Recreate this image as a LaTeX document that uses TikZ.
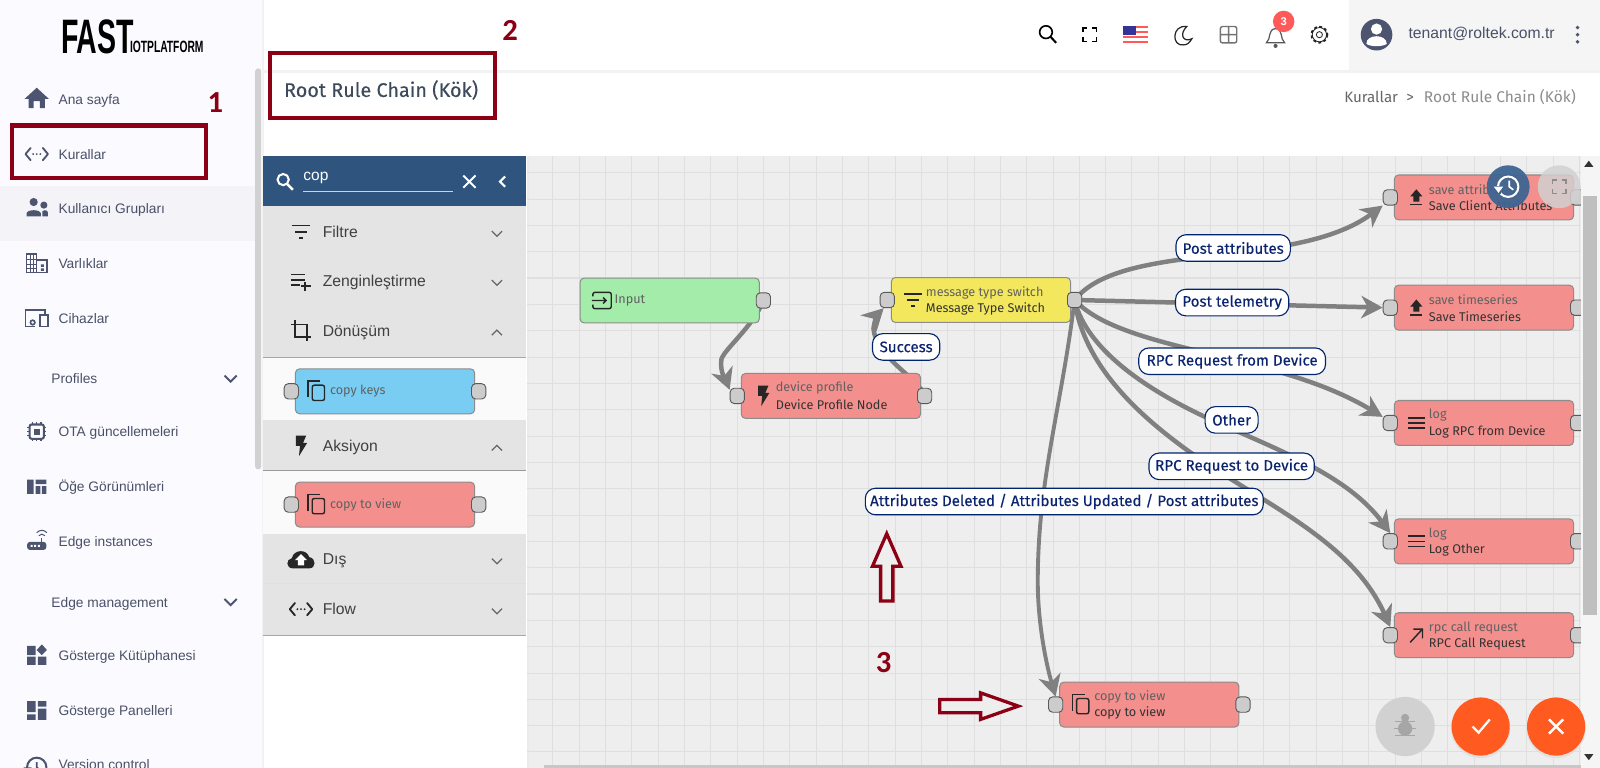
\documentclass[tikz,border=0pt]{standalone}
\usepackage{graphicx}
\usepackage{fontspec}
\setmainfont{Liberation Sans}
\newfontfamily\plexfont{Fira Sans}
\newfontfamily\lblfont[FakeBold=0.35]{Fira Sans}
\newfontfamily\titlefont[FakeBold=0.2]{Fira Sans}
\newfontfamily\numfont{Carlito}
\usetikzlibrary{arrows.meta,calc,backgrounds}
\definecolor{sidebg}{HTML}{FBFBFF}
\definecolor{sidesel}{HTML}{F4F4F8}
\definecolor{sideink}{HTML}{4A5068}
\definecolor{iconink}{HTML}{4C5470}
\definecolor{darkred}{HTML}{8B0014}
\definecolor{canvasbg}{HTML}{EEEEEE}
\definecolor{gridln}{HTML}{DFDFDF}
\definecolor{libhead}{HTML}{2F557F}
\definecolor{libsec}{HTML}{E4E4E4}
\definecolor{nodered}{HTML}{F38F8C}
\definecolor{nodeyel}{HTML}{F3E85D}
\definecolor{nodegrn}{HTML}{A3ECAA}
\definecolor{nodeblu}{HTML}{79CDF2}
\definecolor{navy}{HTML}{0B2470}
\definecolor{navyln}{HTML}{00256E}
\definecolor{edgegray}{HTML}{808080}
\definecolor{orangeb}{HTML}{FF5A20}
\definecolor{titleink}{HTML}{3D4A5C}
\definecolor{histblue}{HTML}{3E6592}
\tikzset{
  flowbox/.style={draw=black!45,line width=.5pt,rounded corners=2pt,minimum width=87.8pt,minimum height=22pt,inner sep=0pt,anchor=north west},
  portbox/.style={draw=black!65,fill=black!20,line width=.45pt,rounded corners=2pt,minimum width=7pt,minimum height=7.5pt,inner sep=0pt},
  flow/.style={draw=edgegray,line width=2.2pt,-{Stealth[length=10.5pt,width=11pt,inset=3.2pt]}},
  edgelbl/.style={draw=navyln,fill=white,line width=.55pt,rounded corners=5pt,minimum height=13pt,inner sep=0pt,text=navy,font=\lblfont\fontsize{7.4pt}{8pt}\selectfont},
  sidetxt/.style={anchor=base west,inner sep=0pt,text=sideink,font=\fontsize{6.75pt}{8pt}\selectfont},
  libtxt/.style={anchor=base west,inner sep=0pt,text=black!75,font=\fontsize{7.7pt}{9pt}\selectfont},
  topline/.style={anchor=west,inner sep=0pt,text=black!62,font=\plexfont\fontsize{6.2pt}{7pt}\selectfont},
  botline/.style={anchor=west,inner sep=0pt,text=black!80,font=\plexfont\fontsize{6.2pt}{7pt}\selectfont},
  rednum/.style={inner sep=0pt,text=darkred,font=\numfont\bfseries\fontsize{15pt}{16pt}\selectfont},
  redbox/.style={draw=darkred,line width=2pt},
  redarrow/.style={draw=darkred,fill=canvasbg,line width=1.6pt,miter limit=8},
  ln/.style={line width=.9pt,line cap=round,line join=round}
}
% ---- icons: argument 1 is the centre, argument 2 the colour
\newcommand\ihome[2]{\fill[#2,shift={(#1)}] (0,-11)--(12,0)--(8,0)--(8,9)--(3,9)--(3,2)--(-3,2)--(-3,9)--(-8,9)--(-8,0)--(-12,0)--cycle;}
\newcommand\icode[2]{\begin{scope}[shift={(#1)}]\draw[#2,ln] (-6,-6)--(-11,0)--(-6,6) (6,-6)--(11,0)--(6,6);\fill[#2] (-3.5,0) circle (1) (0,0) circle (1) (3.5,0) circle (1);\end{scope}}
\newcommand\ipeople[2]{\begin{scope}[shift={(#1)}]\fill[#2] (-3,-6) circle (4) (7,-3) circle (3.5);\fill[#2] (-10,8)--(-10,5).. controls (-9,1) and (3,1) .. (4,5)--(4,8)--cycle;\fill[#2] (5.5,8)--(5.5,3).. controls (8,1) and (11,2) .. (11,5)--(11,8)--cycle;\end{scope}}
\newcommand\ibuilding[2]{\begin{scope}[shift={(#1)}]\draw[#2,line width=.7pt] (-10,-9) rectangle (0,9) (0,-3) rectangle (10,9);\draw[#2,line width=.6pt] (-10,-4)--(0,-4) (-10,1)--(0,1) (-10,5)--(0,5) (-6,-9)--(-6,9) (-3,-9)--(-3,9);\fill[#2] (4,1) rectangle (7,3.5) (4,5) rectangle (7,7.5);\end{scope}}
\newcommand\idevices[2]{\begin{scope}[shift={(#1)}]\draw[#2,line width=.8pt] (-2,8)--(-11,8)--(-11,-8)--(8,-8)--(8,-4);\draw[#2,line width=.8pt] (3,-3) rectangle (11,8);\draw[#2,line width=.8pt] (-4,4) circle (2.2);\end{scope}}
\newcommand\ichip[2]{\begin{scope}[shift={(#1)}]\draw[#2,line width=1pt,rounded corners=1pt] (-7,-7) rectangle (7,7);\fill[#2] (-3,-3) rectangle (3,3);\draw[#2,line width=.7pt] (-9.5,-4)--(-7,-4) (7,-4)--(9.5,-4) (-9.5,0)--(-7,0) (7,0)--(9.5,0) (-9.5,4)--(-7,4) (7,4)--(9.5,4) (-4,-9.5)--(-4,-7) (0,-9.5)--(0,-7) (4,-9.5)--(4,-7) (-4,7)--(-4,9.5) (0,7)--(0,9.5) (4,7)--(4,9.5);\end{scope}}
\newcommand\idash[2]{\begin{scope}[shift={(#1)},#2]\fill (-9.5,-7) rectangle (-3,7) (-1,-7) rectangle (9.5,-2.5) (-1,-.5) rectangle (3.5,7) (5,-.5) rectangle (9.5,7);\end{scope}}
\newcommand\irouter[2]{\begin{scope}[shift={(#1)}]\fill[#2,rounded corners=1.5pt] (-9.5,1) rectangle (9.5,9);\fill[white] (-6,4) rectangle (-4,6) (-2.5,4) rectangle (-.5,6) (1,4) rectangle (3,6);\draw[#2,line width=.6pt] (5,1)--(5,-3);\draw[#2,line width=.5pt] (2,-5) .. controls (4,-7) and (6,-7) .. (8,-5) (0,-8) .. controls (3,-11) and (7,-11) .. (10,-8);\end{scope}}
\newcommand\iwidget[2]{\begin{scope}[shift={(#1)},#2]\fill (-9.5,-9) rectangle (-1,0) (-9.5,1.5) rectangle (-1,9.5) (1,1.5) rectangle (9.5,9.5);\fill (5,-10.5)--(10,-5)--(5,0)--(0,-5)--cycle;\end{scope}}
\newcommand\ipanels[2]{\begin{scope}[shift={(#1)},#2]\fill (-9.5,-9) rectangle (-1,2) (-9.5,4) rectangle (-1,9.5) (1,-9) rectangle (9.5,-3.5) (1,-1.5) rectangle (9.5,9.5);\end{scope}}
\newcommand\ihist[2]{\begin{scope}[shift={(#1)}]\draw[#2,line width=1pt] (0,0) circle (9.5);\draw[#2,line width=.8pt] (0,-5)--(0,0)--(4,3);\fill[sidebg] (-13,3) rectangle (-6,12);\fill[#2] (-13,0)--(-5,0)--(-9,5)--cycle;\end{scope}}
\newcommand\ifilter[2]{\draw[#2,line width=.9pt,shift={(#1)}] (-9,-6)--(9,-6) (-6,0)--(6,0) (-2,6)--(2,6);}
\newcommand\iplaylist[2]{\draw[#2,line width=.9pt,shift={(#1)}] (-10,-6)--(4,-6) (-10,-1)--(4,-1) (-10,4)--(-1,4) (4,1)--(4,10) (0,5.5)--(10,5.5);}
\newcommand\icrop[2]{\draw[#2,line width=.9pt,shift={(#1)}] (-6,-10)--(-6,6)--(10,6) (-10,-6)--(6,-6)--(6,10);}
\newcommand\ibolt[2]{\fill[#2,shift={(#1)}] (-5,-10)--(5,-10)--(2,-3)--(6,-3)--(-2,10)--(-1,0)--(-5,0)--cycle;}
\newcommand\icloud[2]{\begin{scope}[shift={(#1)}]\fill[#2] (-8,9) .. controls (-15,9) and (-15,0) .. (-9,-1) .. controls (-7,-10) and (6,-10) .. (8,-2) .. controls (15,-1) and (15,9) .. (8,9) --cycle;\fill[white] (0,-5)--(6,1)--(3,1)--(3,6)--(-3,6)--(-3,1)--(-6,1)--cycle;\end{scope}}
\newcommand\icopy[2]{\begin{scope}[shift={(#1)}]\draw[#2,line width=.7pt] (-9,6)--(-9,-10)--(3,-10);\draw[#2,line width=.7pt,rounded corners=1pt] (-5,-6) rectangle (7,9);\end{scope}}
\newcommand\iupload[2]{\begin{scope}[shift={(#1)}]\fill[#2] (0,-8)--(6,-1)--(3,-1)--(3,4)--(-3,4)--(-3,-1)--(-6,-1)--cycle;\draw[#2,line width=.7pt] (-6,7)--(6,7);\end{scope}}
\newcommand\imenu[2]{\draw[#2,line width=.8pt,shift={(#1)}] (-8,-5)--(8,-5) (-8,0)--(8,0) (-8,5)--(8,5);}
\newcommand\iarrow[2]{\draw[#2,line width=.7pt,shift={(#1)}] (-6,7)--(6,-6) (-3,-6)--(6,-6)--(6,3);}
\newcommand\iinput[2]{\begin{scope}[shift={(#1)}]\draw[#2,line width=.7pt,rounded corners=1pt] (-9,-4)--(-9,-8)--(9,-8)--(9,8)--(-9,8)--(-9,4);\draw[#2,line width=.7pt] (-10,0)--(4,0) (1,-3)--(4,0)--(1,3);\end{scope}}
\newcommand\ichevd[2]{\draw[#2,line width=.6pt,shift={(#1)}] (-5,-5.5)--(0,-.5)--(5,-5.5);}
\newcommand\ichevu[2]{\draw[#2,line width=.6pt,shift={(#1)}] (-5,-.5)--(0,-5.5)--(5,-.5);}
\newcommand\ifull[2]{\draw[#2,line width=.8pt,shift={(#1)}] (-6.5,-2.5)--(-6.5,-6.5)--(-2.5,-6.5) (2.5,-6.5)--(6.5,-6.5)--(6.5,-2.5) (6.5,2.5)--(6.5,6.5)--(2.5,6.5) (-2.5,6.5)--(-6.5,6.5)--(-6.5,2.5);}
% ---- repeated parts
\newcommand\sideitem[3]{\node[sidetxt] (#1) at (#2) {#3};}
\newcommand\flownode[7]{%
  \node[flowbox,fill=#4] (#1) at (#2,#3) {};
  \node[portbox] (#1-in) at ([xshift=-1.75pt]#1.west) {};
  \node[portbox] (#1-out) at ([xshift=1.75pt]#1.east) {};
  \coordinate (#1-i) at ([xshift=11pt]#1.west);
  #5{#1-i}{black!85}
  \node[topline] (#1-a) at ([xshift=17pt,yshift=3.7pt]#1.west) {#6};
  \node[botline] (#1-b) at ([xshift=17pt,yshift=-4.2pt]#1.west) {#7};}
\newcommand\libsection[6]{%
  \fill[libsec] (258,#2) rectangle (515,#3);
  \draw[black!12,line width=.5pt] (258,#3)--(515,#3);
  #4{295,#2+25}{black!85}
  \node[libtxt] (#1) at (316,#2+30.5) {#5};
  #6{487,#2+30}{black!60}}
\begin{document}
\begin{tikzpicture}[x=0.5pt,y=-0.5pt]
\useasboundingbox (0,0) rectangle (1568,752.64);
\begin{scope}[on background layer]
\fill[white] (0,0) rectangle (1568,752.64);
\fill[canvasbg] (516,153) rectangle (1550,752.64);
\fill[black!8] (516,153) rectangle (518,752.64);
\foreach \k in {1,...,40} {\draw[gridln,line width=.35pt] (515.8+25.8*\k,153)--(515.8+25.8*\k,750);}
\foreach \k in {-3,...,19} {\draw[gridln,line width=.35pt] (516,246.6+25.8*\k)--(1550,246.6+25.8*\k);}
\foreach \k in {-1,...,4} {\draw[gridln,line width=.5pt] (516,272.4+103.2*\k)--(1550,272.4+103.2*\k);}
\end{scope}
% top bar
\fill[black!4] (1322,0) rectangle (1568,69);
\draw[black!5,line width=1.5pt] (258,70)--(1568,70);
% sidebar
\fill[sidebg] (0,0) rectangle (258,752.64);
\fill[sidesel] (0,182) rectangle (250,236);
\draw[black!5,line width=1pt] (258,0)--(258,752.64);
\fill[black!18,rounded corners=1.5pt] (250,67) rectangle (256,460);
\node[inner sep=0pt,anchor=base west] (logo1) at (59.5,52) {\scalebox{.59}[1]{\bfseries\fontsize{23.7pt}{24pt}\selectfont FAST}};
\node[inner sep=0pt,anchor=base west] (logo2) at (127,51) {\scalebox{.63}[1]{\bfseries\fontsize{8pt}{9pt}\selectfont IOTPLATFORM}};
\ihome{36,97}{iconink}
\icode{36,151}{iconink}
\ipeople{36,204}{iconink}
\ibuilding{36,258}{iconink}
\idevices{36,312}{iconink}
\ichip{36,423}{iconink}
\idash{36,477}{iconink}
\irouter{36,530}{iconink}
\iwidget{36,642}{iconink}
\ipanels{36,696}{iconink}
\ihist{36,752}{iconink}
\sideitem{s1}{57,102}{Ana sayfa}
\sideitem{s2}{57,156}{Kurallar}
\sideitem{s3}{57,209}{Kullanıcı Grupları}
\sideitem{s4}{57,263}{Varlıklar}
\sideitem{s5}{57,317}{Cihazlar}
\sideitem{s6}{50,376}{Profiles}
\sideitem{s7}{57,428}{OTA güncellemeleri}
\sideitem{s8}{57,482}{Öğe Görünümleri}
\sideitem{s9}{57,536}{Edge instances}
\sideitem{s10}{50,595}{Edge management}
\sideitem{s11}{57,647}{Gösterge Kütüphanesi}
\sideitem{s12}{57,701}{Gösterge Panelleri}
\sideitem{s13}{57,754}{Version control}
\draw[iconink,line width=1pt] (220,368)--(226,374)--(232,368);
\draw[iconink,line width=1pt] (220,587)--(226,593)--(232,587);
% title and breadcrumb
\node[anchor=base west,inner sep=0pt,text=titleink,font=\titlefont\fontsize{9.7pt}{11pt}\selectfont] (title) at (278,95) {Root Rule Chain (Kök)};
\node[anchor=base west,inner sep=0pt,text=black!60,font=\plexfont\fontsize{7.4pt}{9pt}\selectfont] (bc1) at (1317,100.5) {Kurallar};
\node[anchor=base,inner sep=0pt,text=black!60,font=\plexfont\fontsize{7.4pt}{9pt}\selectfont] (bc2) at (1382,100.5) {>};
\node[anchor=base west,inner sep=0pt,text=black!45,font=\plexfont\fontsize{7.6pt}{9pt}\selectfont] (bc3) at (1395,100.5) {Root Rule Chain (Kök)};
% top icons
\draw[black,line width=.8pt] (1025,31.5) circle (6.2);
\draw[black,line width=1pt] (1029.5,36)--(1035,42);
\ifull{1068,34}{black}
\begin{scope}[shift={(1113,34)}]
  \fill[red!65!white] (-12.5,-8.5) rectangle (12.5,8.5);
  \foreach \k in {1,3,5} {\fill[white] (-12.5,-8.5+2.43*\k) rectangle (12.5,-8.5+2.43*\k+2.43);}
  \fill[blue!50!black!80] (-12.5,-8.5) rectangle (0,0.5);
\end{scope}
\draw[black!85,line width=.6pt] (1163,26) .. controls (1148,24) and (1148,46) .. (1160,44) .. controls (1163,44) and (1166,42) .. (1168,38) .. controls (1160,42) and (1155,34) .. (1163,26) --cycle;
\draw[black!55,line width=.7pt,rounded corners=1pt] (1196,26) rectangle (1212,42) (1204,26)--(1204,42) (1196,34)--(1212,34);
\draw[black!65,line width=.6pt] (1241,42) .. controls (1246,38) and (1242,29) .. (1250,28) .. controls (1258,29) and (1254,38) .. (1259,42) --cycle;
\fill[black!65] (1250,45) circle (2);
\node[circle,fill=red!65!white,minimum size=10.5pt,inner sep=0pt,text=white,font=\bfseries\fontsize{5.5pt}{6pt}\selectfont] (badge) at (1258,21) {3};
\draw[black!85,line width=.9pt,dash pattern=on 1.4pt off 1.2pt] (1293,34) circle (7.8);
\draw[black!85,line width=.4pt] (1293,34) circle (7);
\draw[black!85,line width=.4pt] (1293,34) circle (3);
\fill[iconink] (1349,34) circle (15.5);
\fill[white] (1349,28.5) circle (5.5);
\fill[white] (1339,43) .. controls (1339,33) and (1359,33) .. (1359,43) .. controls (1355,46) and (1343,46) .. (1339,43) --cycle;
\node[anchor=base west,inner sep=0pt,text=sideink,font=\fontsize{7.7pt}{8pt}\selectfont] (acct) at (1380,38) {tenant@roltek.com.tr};
\fill[iconink] (1546,27) circle (1.9) (1546,34) circle (1.9) (1546,41) circle (1.9);
% library panel
\fill[libhead] (258,153) rectangle (515,202);
\draw[white,line width=1pt] (277.5,176) circle (5.5);
\draw[white,line width=1.2pt] (281.5,180.5)--(287,186);
\node[anchor=base west,inner sep=0pt,text=white,font=\fontsize{7.6pt}{9pt}\selectfont] (q) at (297,177) {cop};
\draw[white!80!blue,line width=.5pt] (297,188)--(444,188);
\draw[white,line width=1pt] (454,172)--(466,184) (466,172)--(454,184);
\draw[white,line width=1pt] (495,173)--(490,178)--(495,183);
\libsection{f1}{202}{250}{\ifilter}{Filtre}{\ichevd}
\libsection{f2}{250}{299}{\iplaylist}{Zenginleştirme}{\ichevd}
\libsection{f3}{299}{350}{\icrop}{Dönüşüm}{\ichevu}
\fill[black!2] (258,350) rectangle (515,412);
\draw[black!35,line width=.6pt] (258,350)--(515,350);
\libsection{f4}{412}{461}{\ibolt}{Aksiyon}{\ichevu}
\draw[black!40,line width=.6pt] (258,461)--(515,461);
\fill[black!2] (258,461.4) rectangle (515,523);
\libsection{f5}{523}{572}{\icloud}{Dış}{\ichevd}
\libsection{f6}{572}{623}{\icode}{Flow}{\ichevd}
\draw[black!35,line width=.7pt] (258,623)--(515,623);
\flownode{ck}{289}{361}{nodeblu}{\icopy}{}{}
\node[topline] (ck-t) at ([xshift=17pt]ck.west) {copy keys};
\flownode{cv}{289}{472}{nodered}{\icopy}{}{}
\node[topline] (cv-t) at ([xshift=17pt]cv.west) {copy to view};
% rule chain nodes
\node[flowbox,fill=nodegrn] (inp) at (568,272) {};
\node[portbox] (inp-out) at ([xshift=1.75pt]inp.east) {};
\coordinate (inp-i) at ([xshift=11pt]inp.west);
\iinput{inp-i}{black!85}
\node[topline] (inp-t) at ([xshift=17pt]inp.west) {Input};
\flownode{dev}{726}{365.5}{nodered}{\ibolt}{device profile}{Device Profile Node}
\flownode{msg}{873}{271.5}{nodeyel}{\ifilter}{message type switch}{Message Type Switch}
\flownode{sav}{1366}{171}{nodered}{\iupload}{save attributes}{Save Client Attributes}
\flownode{tim}{1366}{279}{nodered}{\iupload}{save timeseries}{Save Timeseries}
\flownode{lrp}{1366}{392}{nodered}{\imenu}{log}{Log RPC from Device}
\flownode{lot}{1366}{508}{nodered}{\imenu}{log}{Log Other}
\flownode{rpc}{1366}{600}{nodered}{\iarrow}{rpc call request}{RPC Call Request}
\flownode{cop}{1038}{668}{nodered}{\icopy}{copy to view}{copy to view}
% edge labels
\node[edgelbl,minimum width=56pt] (lA) at (1208.5,243) {Post attributes};
\node[edgelbl,minimum width=55.5pt] (lB) at (1207.5,296.5) {Post telemetry};
\node[edgelbl,minimum width=91.5pt] (lC) at (1207.5,354) {RPC Request from Device};
\node[edgelbl,minimum width=26pt] (lD) at (1207,411.5) {Other};
\node[edgelbl,minimum width=81pt] (lE) at (1207,457) {RPC Request to Device};
\node[edgelbl,minimum width=195pt] (lF) at (1043,491.5) {Attributes Deleted / Attributes Updated / Post attributes};
\node[edgelbl,minimum width=33pt] (lG) at (888,340) {Success};
% connectors, under the nodes
\begin{scope}[on background layer]
\draw[flow] (inp-out.center) .. controls (738,320) and (710,342) .. (707,352) .. controls (705,365) and (712,374) .. ([yshift=-1pt]dev-in.north west);
\draw[flow] (dev-out.center) .. controls (902,372) and (858,350) .. (856,322) .. controls (857,314) and (860,308) .. ([xshift=2pt]msg-in.south west);
\draw[flow] (msg-out.center) .. controls (1100,235) and (1270,265) .. (sav-in.south west);
\draw[flow] (msg-out.center) -- (tim-in.west);
\draw[flow] (msg-out.center) .. controls (1100,345) and (1250,345) .. ([yshift=-1pt]lrp-in.north west);
\draw[flow] (msg-out.center) .. controls (1065,345) and (1130,385) .. (1184,410) .. controls (1250,440) and (1320,465) .. (lot-in.north);
\draw[flow] (msg-out.center) .. controls (1062,360) and (1120,410) .. (1166,443) .. controls (1240,495) and (1325,530) .. (rpc-in.north);
\draw[flow,line width=1.9pt] (msg-out.center) .. controls (1040,400) and (1017,470) .. (1017,570) .. controls (1017,610) and (1025,650) .. (cop-in.north);
\end{scope}
% scrollbars and buttons
\fill[black!4] (1549.5,153) rectangle (1568,752.64);
\fill[black!25] (1551,192) rectangle (1565,603);
\fill[black!80] (1557,157.5)--(1561.5,163.5)--(1552.5,163.5)--cycle;
\fill[black!80] (1557,745)--(1561.5,739)--(1552.5,739)--cycle;
\fill[black!22] (533,749.5) rectangle (1549,752.64);
\fill[histblue,opacity=.95] (1478,183) circle (21);
\draw[white,line width=1pt] (1478,183) circle (10);
\draw[white,line width=.8pt] (1479,177)--(1479,183)--(1483,186);
\fill[histblue] (1465,182) rectangle (1471,190);
\fill[white] (1464,183)--(1473,183)--(1468.5,189)--cycle;
\fill[black!18,opacity=.85] (1528,183) circle (21);
\ifull{1528,183}{black!45}
\fill[black!18] (1377,712) circle (29);
\fill[black!35] (1377,714) circle (7) (1377,703.5) circle (4);
\draw[black!35,line width=.7pt] (1367,707)--(1387,707) (1366,714)--(1388,714) (1367,721)--(1387,721);
\fill[black!12] (1451,714) circle (29) (1525,714) circle (29);
\fill[orangeb] (1451,712) circle (28.5) (1525,712) circle (28.5);
\draw[white,line width=1.1pt] (1443,712)--(1449,718)--(1460,705);
\draw[white,line width=1.2pt] (1518,705)--(1532,719) (1532,705)--(1518,719);
% annotations
\draw[redbox] (11.7,123) rectangle (202,174.4);
\draw[redbox] (265,51.7) rectangle (485,116);
\node[rednum] (n1) at (211,101) {1};
\node[rednum] (n2) at (500,30) {2};
\node[rednum] (n3) at (866,649) {3};
\draw[redarrow] (869,523)--(883,555)--(875,555)--(875,589)--(863,589)--(863,555)--(855,555)--cycle;
\draw[redarrow] (921,685.5)--(961,685.5)--(961,679)--(998,692)--(961,705)--(961,698.5)--(921,698.5)--cycle;
\end{tikzpicture}
\end{document}
